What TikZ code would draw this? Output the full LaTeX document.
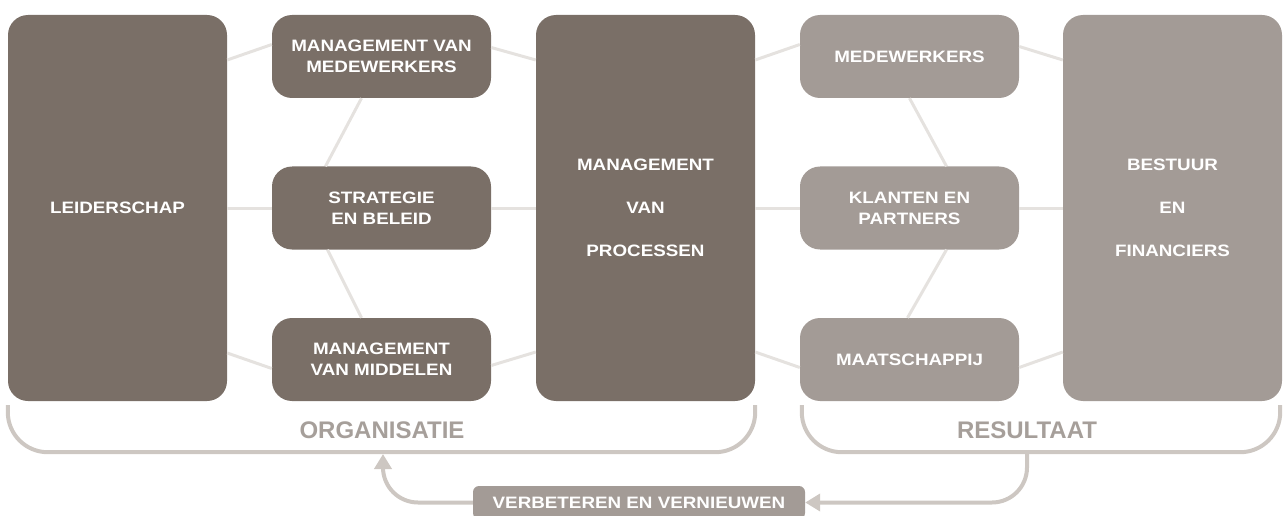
\documentclass[tikz,border=0pt]{standalone}
\usepackage{fontspec}
\usepackage{tikz}
\usetikzlibrary{arrows.meta}
\usetikzlibrary{positioning}
\newfontfamily\boxfont{Liberation Sans}[FakeStretch=1.14]
\newfontfamily\groupfont{Liberation Sans}
\definecolor{taupe}{RGB}{122, 111, 103}
\definecolor{greige}{RGB}{163, 155, 150}
\definecolor{linegray}{RGB}{229, 226, 223}
\definecolor{bracketgray}{RGB}{205, 199, 194}
\definecolor{labelgray}{RGB}{166, 159, 154}

\tikzset{
    block/.style={rounded corners=20pt, text=white, align=center, inner sep=0pt,
        minimum width=219pt, minimum height=83pt,
        font=\boxfont\bfseries\fontsize{16.5}{21}\selectfont},
    tall/.style={block, minimum height=386pt,
        font=\boxfont\bfseries\fontsize{16.5}{43.3}\selectfont},
    organ/.style={fill=taupe},
    result/.style={fill=greige},
    link/.style={linegray, line width=3pt},
    bracket/.style={bracketgray, line width=4pt, rounded corners=40pt},
    grouplabel/.style={text=labelgray, font=\groupfont\bfseries\fontsize{24}{28}\selectfont},
    action/.style={fill=greige, rounded corners=6pt, text=white, inner sep=0pt,
        minimum width=332pt, minimum height=33pt,
        font=\boxfont\bfseries\fontsize{16.5}{20}\selectfont},
    feedback/.style={bracketgray, line width=4pt, rounded corners=35pt,
        -{Triangle[length=15pt, width=17pt]}}
}

\begin{document}
\begin{tikzpicture}[x=1pt, y=-1pt]
    \useasboundingbox (0,0) rectangle (1283,516);
    \clip (0,0) rectangle (1283,516);

    % organisatie
    \node[tall, organ]  (lead)   at ( 117.5, 208.0) {LEIDERSCHAP};
    \node[block, organ] (staff)  at ( 381.5,  56.5) {MANAGEMENT VAN\\MEDEWERKERS};
    \node[block, organ] (policy) at ( 381.5, 208.0) {STRATEGIE\\EN BELEID};
    \node[block, organ] (means)  at ( 381.5, 359.5) {MANAGEMENT\\VAN MIDDELEN};
    \node[tall, organ]  (proc)   at ( 645.5, 208.0) {MANAGEMENT\\VAN\\PROCESSEN};

    % resultaat
    \node[block, result] (people)  at ( 909.5,  56.5) {MEDEWERKERS};
    \node[block, result] (clients) at ( 909.5, 208.0) {KLANTEN EN\\PARTNERS};
    \node[block, result] (society) at ( 909.5, 359.5) {MAATSCHAPPIJ};
    \node[tall, result]  (board)   at (1172.5, 208.0) {BESTUUR\\EN\\FINANCIERS};

    % links
    \draw[link] ([yshift=148pt]lead.east)  -- ([yshift=12pt]staff.west);
    \draw[link] (lead.east)                -- (policy.west);
    \draw[link] ([yshift=-145pt]lead.east) -- ([yshift=-9pt]means.west);
    \draw[link] ([yshift=9pt]staff.east)   -- ([yshift=148pt]proc.west);
    \draw[link] (policy.east)              -- (proc.west);
    \draw[link] ([yshift=-6pt]means.east)  -- ([yshift=-144pt]proc.west);
    \draw[link] ([xshift=-20pt]staff.south)  -- ([xshift=-56pt]policy.north);
    \draw[link] ([xshift=-54pt]policy.south) -- ([xshift=-20pt]means.north);

    \draw[link] ([yshift=148pt]proc.east)  -- ([yshift=12pt]people.west);
    \draw[link] (proc.east)                -- (clients.west);
    \draw[link] ([yshift=-144pt]proc.east) -- ([yshift=-8pt]society.west);
    \draw[link] ([yshift=10pt]people.east) -- ([yshift=148pt]board.west);
    \draw[link] (clients.east)             -- (board.west);
    \draw[link] ([yshift=-8pt]society.east) -- ([yshift=-144pt]board.west);
    \draw[link] (people.south)               -- ([xshift=37pt]clients.north);
    \draw[link] ([xshift=37pt]clients.south) -- ([xshift=-2pt]society.north);

    % brackets
    \draw[bracket] ([yshift=-4pt]lead.south west) -- ++(0,47) -| ([yshift=-4pt]proc.south east);
    \draw[bracket] ([xshift=2pt, yshift=-4pt]society.south west) -- ++(0,47)
        -| ([xshift=-2pt, yshift=-4pt]board.south east);
    \node[grouplabel] (org) at ( 382, 430) {ORGANISATIE};
    \node[grouplabel] (res) at (1027, 430) {RESULTAAT};

    % verbeteren
    \node[action] (improve) at (639, 502.5) {VERBETEREN EN VERNIEUWEN};
    \coordinate (resfoot) at (1027, 452);
    \coordinate (orgfoot) at ( 383, 454);
    \draw[feedback] (resfoot) |- (improve.east);
    \draw[feedback] (improve.west) -| (orgfoot);
\end{tikzpicture}
\end{document}
